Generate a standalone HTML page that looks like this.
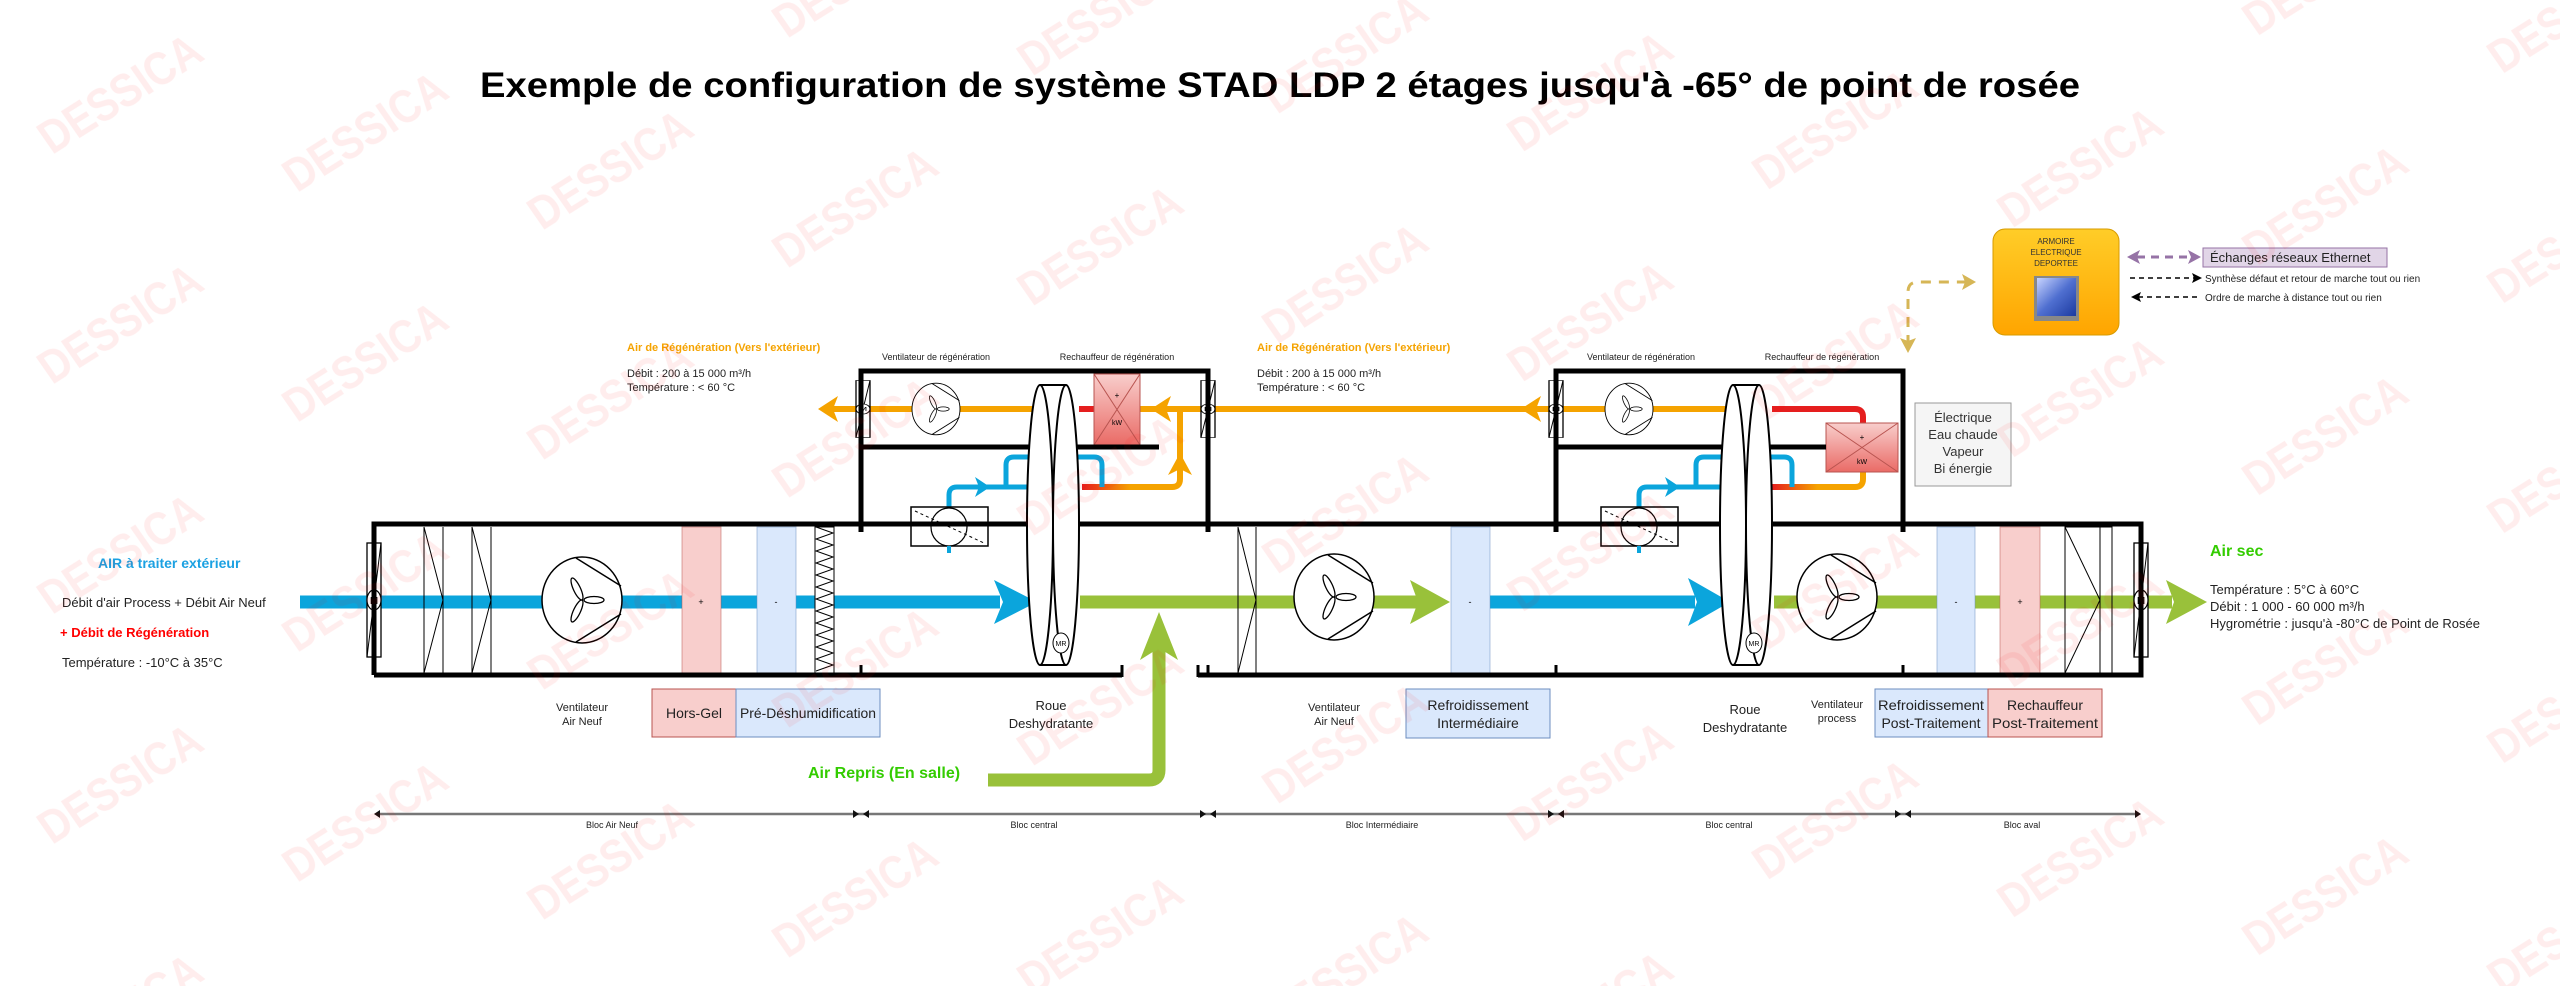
<!DOCTYPE html>
<html><head><meta charset="utf-8"><style>
html,body{margin:0;padding:0;background:#fff;}
svg{display:block;font-family:"Liberation Sans",sans-serif;}
</style></head><body>
<svg width="2560" height="986" viewBox="0 0 2560 986" xmlns="http://www.w3.org/2000/svg">
<defs>
<pattern id="wm" width="245" height="230" patternUnits="userSpaceOnUse" patternTransform="skewY(8.8) translate(0,-40)">
<text x="120" y="130" text-anchor="middle" transform="rotate(-38 120 115)" font-size="44" font-weight="bold" fill="#ff0000" fill-opacity="0.07" font-family="Liberation Sans, sans-serif">DESSICA</text>
</pattern>
<linearGradient id="hg" x1="0" y1="0" x2="0" y2="1"><stop offset="0" stop-color="#f8cecc"/><stop offset="1" stop-color="#ea6b66"/></linearGradient>
<linearGradient id="og" x1="0" y1="0" x2="1" y2="0"><stop offset="0" stop-color="#e51e1e"/><stop offset="0.5" stop-color="#f5a300"/></linearGradient>
<linearGradient id="ab" x1="0" y1="0" x2="0" y2="1"><stop offset="0" stop-color="#ffcd28"/><stop offset="1" stop-color="#ffa500"/></linearGradient>
<linearGradient id="sc" x1="0" y1="0" x2="1" y2="1"><stop offset="0" stop-color="#c8d4ff"/><stop offset="0.5" stop-color="#4f6fd0"/><stop offset="1" stop-color="#1c3aa0"/></linearGradient>
<g id="fan">
<ellipse cx="0" cy="0" rx="40" ry="43" fill="#fff" stroke="#000" stroke-width="1.5"/>
<line x1="-6" y1="-42" x2="39" y2="-14" stroke="#000" stroke-width="1.5"/>
<line x1="-6" y1="42" x2="39" y2="14" stroke="#000" stroke-width="1.5"/>
<ellipse cx="12" cy="0" rx="10" ry="3.5" fill="none" stroke="#000" stroke-width="1.3"/>
<ellipse cx="-5" cy="-11" rx="3.5" ry="12" transform="rotate(-25 -5 -11)" fill="none" stroke="#000" stroke-width="1.3"/>
<ellipse cx="-5" cy="11" rx="3.5" ry="12" transform="rotate(25 -5 11)" fill="none" stroke="#000" stroke-width="1.3"/>
</g>
<g id="mot">
<rect x="-7" y="-57" width="14" height="114" fill="#fff" stroke="#000" stroke-width="1.3"/>
<line x1="7" y1="-57" x2="-7" y2="57" stroke="#000" stroke-width="1"/>
<ellipse cx="0" cy="0" rx="7" ry="10" fill="#fff" stroke="#000" stroke-width="1.2"/>
<text x="0" y="4" font-size="10" text-anchor="middle">M</text>
</g>
<g id="wheel">
<rect x="-13" y="-140" width="26" height="280" fill="#fff"/>
<ellipse cx="13" cy="0" rx="13" ry="140" fill="#fff" stroke="#000" stroke-width="2"/>
<line x1="-13" y1="-140" x2="13" y2="-140" stroke="#000" stroke-width="2"/>
<line x1="-13" y1="140" x2="13" y2="140" stroke="#000" stroke-width="2"/>
<ellipse cx="-13" cy="0" rx="13" ry="140" fill="#fff" stroke="#000" stroke-width="2"/>
<ellipse cx="8" cy="118" rx="8" ry="10" fill="#fff" stroke="#000" stroke-width="1"/>
<text x="8" y="121" font-size="7" text-anchor="middle">MR</text>
</g>
<g id="cool">
<rect x="0" y="0" width="77" height="39" fill="#fff" stroke="#000" stroke-width="1.5"/>
<ellipse cx="38" cy="20" rx="18" ry="19" fill="#fff" stroke="#000" stroke-width="1.2"/>
<line x1="4" y1="4" x2="73" y2="36" stroke="#000" stroke-width="1" stroke-dasharray="3,3"/>
<line x1="38" y1="39" x2="38" y2="46" stroke="#0ba5dc" stroke-width="4"/>
</g>
<g id="loop" fill="none" stroke="#0ba5dc" stroke-width="5">
<path d="M949,507 V495 Q949,487 957,487 H1033"/>
<path d="M1006,487 V465 Q1006,457 1014,457 H1094 Q1102,457 1102,465 V487"/>
</g>
</defs>

<rect width="2560" height="986" fill="#fff"/>

<text x="1280" y="97" text-anchor="middle" font-size="35" font-weight="bold" textLength="1600" lengthAdjust="spacingAndGlyphs">Exemple de configuration de système STAD LDP 2 étages jusqu'à -65° de point de rosée</text>

<g>
<line x1="300" y1="602" x2="1000" y2="602" stroke="#0ba5dc" stroke-width="13"/>
<polygon points="994,580 1037,602 994,624 1003,602" fill="#0ba5dc"/>
<line x1="1080" y1="602" x2="1418" y2="602" stroke="#99c13a" stroke-width="13"/>
<polygon points="1410,580 1450,602 1410,624 1418,602" fill="#99c13a"/>
<line x1="1490" y1="602" x2="1695" y2="602" stroke="#0ba5dc" stroke-width="13"/>
<polygon points="1688,578 1730,602 1688,626 1697,602" fill="#0ba5dc"/>
<line x1="1774" y1="602" x2="2172" y2="602" stroke="#99c13a" stroke-width="13"/>
<polygon points="2166,580 2207,602 2166,624 2174,602" fill="#99c13a"/>
<path d="M988,780 H1149 Q1159,780 1159,770 V640" fill="none" stroke="#99c13a" stroke-width="13"/>
<polygon points="1159,612 1140,660 1159,648 1178,660" fill="#99c13a"/>
</g>

<rect x="682" y="527" width="39" height="146" fill="#f8cecc" stroke="#b85450" stroke-width="1" stroke-opacity="0.5"/>
<text x="701" y="605" font-size="9" text-anchor="middle">+</text>
<rect x="757" y="527" width="39" height="146" fill="#dae8fc" stroke="#6c8ebf" stroke-width="1" stroke-opacity="0.5"/>
<text x="776" y="605" font-size="9" text-anchor="middle">-</text>
<rect x="815" y="527" width="19" height="146" fill="#fff" stroke="#000" stroke-width="1"/>
<polyline fill="none" stroke="#000" stroke-width="1" points="816,527 833,533 816,539 833,545 816,551 833,557 816,563 833,569 816,575 833,581 816,587 833,593 816,599 833,605 816,611 833,617 816,623 833,629 816,635 833,641 816,647 833,653 816,659 833,665 816,671"/>
<g fill="none" stroke="#000" stroke-width="1">
<line x1="424" y1="527" x2="424" y2="673"/><line x1="443" y1="527" x2="443" y2="673"/><polyline points="424,527 443,600 424,673"/>
<line x1="472" y1="527" x2="472" y2="673"/><line x1="491" y1="527" x2="491" y2="673"/><polyline points="472,527 491,600 472,673"/>
<line x1="1238" y1="527" x2="1238" y2="673"/><line x1="1256" y1="527" x2="1256" y2="673"/><polyline points="1238,527 1256,600 1238,673"/>
<rect x="2065" y="527" width="47" height="146"/><line x1="2100" y1="527" x2="2100" y2="673"/><polyline points="2065,527 2100,600 2065,673"/>
</g>
<use href="#mot" x="374" y="600"/>
<use href="#fan" x="582" y="600"/>

<rect x="1451" y="527" width="39" height="146" fill="#dae8fc" stroke="#6c8ebf" stroke-width="1" stroke-opacity="0.5"/>
<text x="1470" y="605" font-size="9" text-anchor="middle">-</text>
<rect x="1937" y="527" width="38" height="146" fill="#dae8fc" stroke="#6c8ebf" stroke-width="1" stroke-opacity="0.5"/>
<text x="1956" y="605" font-size="9" text-anchor="middle">-</text>
<rect x="2000" y="527" width="40" height="146" fill="#f8cecc" stroke="#b85450" stroke-width="1" stroke-opacity="0.5"/>
<text x="2020" y="605" font-size="9" text-anchor="middle">+</text>
<use href="#fan" x="1334" y="597"/>
<use href="#fan" x="1837" y="597"/>
<use href="#mot" x="2141" y="600"/>

<g fill="none" stroke-width="6">
<line x1="832" y1="409" x2="1033" y2="409" stroke="#f5a300"/>
<line x1="1079" y1="409" x2="1094" y2="409" stroke="#e51e1e"/>
<line x1="1140" y1="409" x2="1550" y2="409" stroke="#f5a300"/>
<path d="M1082,487 H1172 Q1180,487 1180,479 V409" stroke="url(#og)"/>
<line x1="1563" y1="409" x2="1725" y2="409" stroke="#f5a300"/>
<path d="M1772,409 H1855 Q1863,409 1863,417 V423" stroke="#e51e1e"/>
<path d="M1772,487 H1855 Q1863,487 1863,479 V472" stroke="url(#og)"/>
</g>
<polygon points="818,409 838,396 833,409 838,422" fill="#f5a300"/>
<polygon points="1151,409 1171,396 1166,409 1171,422" fill="#f5a300"/>
<polygon points="1521,409 1541,396 1536,409 1541,422" fill="#f5a300"/>
<polygon points="1180,453 1168,475 1180,469 1192,475" fill="#f5a300"/>

<use href="#loop"/>
<use href="#loop" transform="translate(690,0)"/>
<polygon points="990,487 975,477 979,487 975,497" fill="#0ba5dc"/>
<polygon points="1070,457 1055,447 1059,457 1055,467" fill="#0ba5dc"/>
<polygon points="1680,487 1665,477 1669,487 1665,497" fill="#0ba5dc"/>
<polygon points="1760,457 1745,447 1749,457 1745,467" fill="#0ba5dc"/>

<use href="#cool" x="911" y="507"/>
<use href="#cool" x="1601" y="507"/>

<rect x="1094" y="374" width="46" height="71" fill="url(#hg)" stroke="#b85450" stroke-width="1"/>
<line x1="1094" y1="374" x2="1140" y2="445" stroke="#b85450"/><line x1="1140" y1="374" x2="1094" y2="445" stroke="#b85450"/>
<text x="1117" y="398" font-size="8" text-anchor="middle">+</text><text x="1117" y="425" font-size="7" text-anchor="middle">kW</text>
<rect x="1826" y="423" width="72" height="49" fill="url(#hg)" stroke="#b85450" stroke-width="1"/>
<line x1="1826" y1="423" x2="1898" y2="472" stroke="#b85450"/><line x1="1898" y1="423" x2="1826" y2="472" stroke="#b85450"/>
<text x="1862" y="440" font-size="8" text-anchor="middle">+</text><text x="1862" y="464" font-size="7" text-anchor="middle">kW</text>
<g transform="translate(936,409) scale(0.6)"><use href="#fan"/></g>
<g transform="translate(1629,409) scale(0.6)"><use href="#fan"/></g>
<use href="#mot" transform="translate(863,409) scale(1,0.5)"/>
<use href="#mot" transform="translate(1208,409) scale(1,0.5)"/>
<use href="#mot" transform="translate(1556,409) scale(1,0.5)"/>

<g fill="none" stroke="#000" stroke-width="5">
<path d="M374,675 V524 H2141 V675 H1198"/>
<path d="M374,675 H1122"/>
<path d="M861,532 V371 H1208 V532"/>
<path d="M1556,532 V371 H1903 V532"/>
<line x1="861" y1="447" x2="1159" y2="447"/>
<line x1="1556" y1="447" x2="1826" y2="447"/>
<line x1="861" y1="665" x2="861" y2="675" stroke-width="3"/>
<line x1="1208" y1="665" x2="1208" y2="675" stroke-width="3"/>
<line x1="1556" y1="665" x2="1556" y2="675" stroke-width="3"/>
<line x1="1903" y1="665" x2="1903" y2="675" stroke-width="3"/>
<line x1="1122" y1="665" x2="1122" y2="677" stroke-width="3"/>
<line x1="1198" y1="665" x2="1198" y2="677" stroke-width="3"/>
</g>
<use href="#wheel" x="1053" y="525"/>
<use href="#wheel" x="1746" y="525"/>

<g font-size="13" fill="#222">
<text x="98" y="568" font-size="14" font-weight="bold" fill="#1ba1e2">AIR à traiter extérieur</text>
<text x="62" y="607">Débit d'air Process + Débit Air Neuf</text>
<text x="60" y="637" font-weight="bold" fill="#ff0000">+ Débit de Régénération</text>
<text x="62" y="667">Température : -10°C à 35°C</text>
<text x="2210" y="556" font-size="16" font-weight="bold" fill="#33cc00">Air sec</text>
<text x="2210" y="594">Température : 5°C à 60°C</text>
<text x="2210" y="611">Débit : 1 000 - 60 000 m³/h</text>
<text x="2210" y="628">Hygrométrie : jusqu'à -80°C de Point de Rosée</text>
<text x="808" y="778" font-size="16" font-weight="bold" fill="#33cc00">Air Repris (En salle)</text>
</g>
<g font-size="11" fill="#222">
<text x="627" y="351" font-weight="bold" fill="#f5a300">Air de Régénération (Vers l'extérieur)</text>
<text x="627" y="377">Débit : 200 à 15 000 m³/h</text>
<text x="627" y="391">Température : &lt; 60 °C</text>
<text x="1257" y="351" font-weight="bold" fill="#f5a300">Air de Régénération (Vers l'extérieur)</text>
<text x="1257" y="377">Débit : 200 à 15 000 m³/h</text>
<text x="1257" y="391">Température : &lt; 60 °C</text>
</g>
<g font-size="9" fill="#222" text-anchor="middle">
<text x="936" y="360">Ventilateur de régénération</text>
<text x="1117" y="360">Rechauffeur de régénération</text>
<text x="1641" y="360">Ventilateur de régénération</text>
<text x="1822" y="360">Rechauffeur de régénération</text>
</g>
<g font-size="11" fill="#222" text-anchor="middle">
<text x="582" y="711">Ventilateur</text><text x="582" y="725">Air Neuf</text>
<text x="1334" y="711">Ventilateur</text><text x="1334" y="725">Air Neuf</text>
<text x="1837" y="708">Ventilateur</text><text x="1837" y="722">process</text>
</g>
<g font-size="13" fill="#222" text-anchor="middle">
<text x="1051" y="710">Roue</text><text x="1051" y="728">Deshydratante</text>
<text x="1745" y="714">Roue</text><text x="1745" y="732">Deshydratante</text>
</g>
<rect x="652" y="689" width="84" height="48" fill="#f8cecc" stroke="#b85450"/>
<rect x="736" y="689" width="144" height="48" fill="#dae8fc" stroke="#6c8ebf"/>
<rect x="1406" y="689" width="144" height="49" fill="#dae8fc" stroke="#6c8ebf"/>
<rect x="1875" y="689" width="113" height="48" fill="#dae8fc" stroke="#6c8ebf"/>
<rect x="1988" y="689" width="114" height="48" fill="#f8cecc" stroke="#b85450"/>
<g font-size="14" fill="#222" text-anchor="middle">
<text x="694" y="718">Hors-Gel</text>
<text x="808" y="718" textLength="136" lengthAdjust="spacingAndGlyphs">Pré-Déshumidification</text>
<text x="1478" y="710">Refroidissement</text><text x="1478" y="728">Intermédiaire</text>
<text x="1931" y="710" textLength="106" lengthAdjust="spacingAndGlyphs">Refroidissement</text><text x="1931" y="728">Post-Traitement</text>
<text x="2045" y="710">Rechauffeur</text><text x="2045" y="728" textLength="106" lengthAdjust="spacingAndGlyphs">Post-Traitement</text>
</g>
<rect x="1915" y="403" width="96" height="83" fill="#f5f5f5" stroke="#999"/>
<g font-size="13" fill="#333" text-anchor="middle">
<text x="1963" y="422">Électrique</text><text x="1963" y="439">Eau chaude</text><text x="1963" y="456">Vapeur</text><text x="1963" y="473">Bi énergie</text>
</g>

<rect x="1993" y="229" width="126" height="106" rx="12" fill="url(#ab)" stroke="#d79b00" stroke-width="1"/>
<g font-size="8" fill="#333" text-anchor="middle">
<text x="2056" y="244">ARMOIRE</text><text x="2056" y="255">ELECTRIQUE</text><text x="2056" y="266">DEPORTEE</text>
</g>
<rect x="2034" y="276" width="45" height="45" fill="#888"/>
<rect x="2037" y="278" width="39" height="38" fill="url(#sc)"/>
<path d="M1908,345 V292 Q1908,282 1918,282 H1965" fill="none" stroke="#d6b656" stroke-width="3" stroke-dasharray="10,8"/>
<polygon points="1976,282 1962,274 1965,282 1962,290" fill="#d6b656"/>
<polygon points="1908,353 1900,338 1908,341 1916,338" fill="#d6b656"/>
<line x1="2137" y1="257" x2="2192" y2="257" stroke="#9673a6" stroke-width="3" stroke-dasharray="8,6"/>
<polygon points="2127,257 2140,250 2137,257 2140,264" fill="#9673a6"/>
<polygon points="2201,257 2188,250 2191,257 2188,264" fill="#9673a6"/>
<rect x="2203" y="248" width="184" height="19" fill="#e1d5e7" stroke="#9673a6"/>
<text x="2210" y="262" font-size="13" fill="#222">Échanges réseaux Ethernet</text>
<line x1="2130" y1="278" x2="2195" y2="278" stroke="#000" stroke-width="1.5" stroke-dasharray="5,4"/>
<polygon points="2202,278 2192,273 2194,278 2192,283" fill="#000"/>
<text x="2205" y="282" font-size="10" fill="#222">Synthèse défaut et retour de marche tout ou rien</text>
<line x1="2138" y1="297" x2="2200" y2="297" stroke="#000" stroke-width="1.5" stroke-dasharray="5,4"/>
<polygon points="2131,297 2141,292 2139,297 2141,302" fill="#000"/>
<text x="2205" y="301" font-size="10" fill="#222">Ordre de marche à distance tout ou rien</text>

<line x1="376" y1="814" x2="2139" y2="814" stroke="#777" stroke-width="2.5"/>
<g fill="#111">
<polygon points="374,814 380,810 380,818"/>
<polygon points="859,814 853,810 853,818"/><polygon points="863,814 869,810 869,818"/>
<polygon points="1206,814 1200,810 1200,818"/><polygon points="1210,814 1216,810 1216,818"/>
<polygon points="1554,814 1548,810 1548,818"/><polygon points="1558,814 1564,810 1564,818"/>
<polygon points="1901,814 1895,810 1895,818"/><polygon points="1905,814 1911,810 1911,818"/>
<polygon points="2141,814 2135,810 2135,818"/>
</g>
<g font-size="9" fill="#222" text-anchor="middle">
<text x="612" y="828">Bloc Air Neuf</text>
<text x="1034" y="828">Bloc central</text>
<text x="1382" y="828">Bloc Intermédiaire</text>
<text x="1729" y="828">Bloc central</text>
<text x="2022" y="828">Bloc aval</text>
</g>

<rect width="2560" height="986" fill="url(#wm)"/>
</svg>
</body></html>
